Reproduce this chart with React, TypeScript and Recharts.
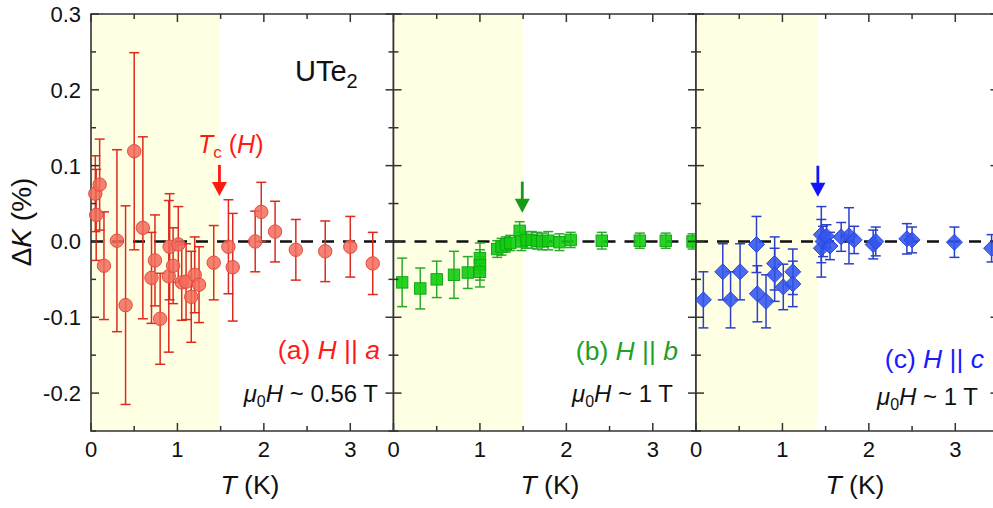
import {
  ScatterChart,
  Scatter,
  XAxis,
  YAxis,
  ErrorBar,
  ReferenceLine,
  ReferenceArea,
  ReferenceDot,
} from 'recharts';

const FONT = '"Liberation Sans", Arial, Helvetica, sans-serif';

// (a) H || a, mu0H ~ 0.56 T
const tA = [0.05, 0.06, 0.1, 0.15, 0.3, 0.4, 0.5, 0.6, 0.7, 0.74, 0.8, 0.9, 0.91, 0.95, 1.01, 1.05, 1.1, 1.16, 1.2, 1.25, 1.42, 1.59, 1.64, 1.9, 1.97, 2.13, 2.37, 2.71, 3.0, 3.26];
const kA = [0.063, 0.035, 0.075, -0.032, 0.001, -0.084, 0.119, 0.018, -0.048, -0.025, -0.102, -0.046, -0.007, -0.032, -0.004, -0.054, -0.053, -0.073, -0.044, -0.057, -0.028, -0.007, -0.034, 0.0, 0.039, 0.013, -0.011, -0.013, -0.007, -0.029];
const eA = [0.05, 0.06, 0.06, 0.071, 0.12, 0.131, 0.13, 0.12, 0.06, 0.06, 0.06, 0.1, 0.07, 0.05, 0.05, 0.05, 0.05, 0.06, 0.05, 0.05, 0.049, 0.062, 0.071, 0.04, 0.039, 0.04, 0.04, 0.04, 0.04, 0.041];

// (b) H || b, mu0H ~ 1 T
const tB = [0.1, 0.31, 0.5, 0.7, 0.86, 1.0, 1.0, 1.0, 1.2, 1.25, 1.3, 1.35, 1.46, 1.48, 1.54, 1.6, 1.66, 1.72, 1.79, 1.92, 2.05, 2.41, 2.85, 3.15, 3.46];
const kB = [-0.054, -0.062, -0.05, -0.044, -0.041, -0.022, -0.031, -0.04, -0.01, -0.007, -0.004, -0.002, 0.014, 0.0, 0.002, 0.002, 0.001, 0.0, 0.001, -0.001, 0.002, 0.001, 0.001, 0.001, 0.0];
const eB = [0.032, 0.027, 0.024, 0.031, 0.021, 0.02, 0.02, 0.02, 0.011, 0.011, 0.01, 0.01, 0.012, 0.012, 0.011, 0.011, 0.011, 0.011, 0.012, 0.011, 0.01, 0.011, 0.01, 0.01, 0.01];

// (c) H || c, mu0H ~ 1 T
const tC = [0.085, 0.31, 0.4, 0.51, 0.7, 0.71, 0.81, 0.91, 0.91, 1.01, 1.12, 1.12, 1.45, 1.45, 1.47, 1.51, 1.55, 1.68, 1.77, 1.83, 2.05, 2.08, 2.44, 2.5, 2.99, 3.42];
const kC = [-0.077, -0.04, -0.077, -0.04, -0.004, -0.069, -0.079, -0.029, -0.044, -0.06, -0.04, -0.056, 0.009, -0.009, 0.0, 0.007, -0.006, 0.006, 0.0075, 0.002, -0.004, 0.0, 0.0035, 0.002, -0.001, -0.009];
const eC = [0.037, 0.037, 0.037, 0.037, 0.037, 0.037, 0.035, 0.035, 0.035, 0.03, 0.03, 0.03, 0.037, 0.038, 0.02, 0.015, 0.018, 0.019, 0.037, 0.018, 0.019, 0.019, 0.02, 0.017, 0.02, 0.018];

// Tc(H) arrows: T and the K value at the arrow tip
const tcA = [1.486, 0.06];
const tcB = [1.49, 0.038];
const tcC = [1.41, 0.059];

const xTicks = [0, 0.5, 1, 1.5, 2, 2.5, 3, 3.5];
const yTicks = [-0.25, -0.2, -0.15, -0.1, -0.05, 0, 0.05, 0.1, 0.15, 0.2, 0.25, 0.3];

const W = 1000;
const H = 508;
const TOP = 14;
const BOTTOM = 431;
const AX = 50; // room reserved for axes
const AXIS = '#333';

const rows = (t: number[], k: number[], e: number[]) => t.map((v, i) => ({ t: v, k: k[i], e: e[i] }));

type PanelProps = {
  data: { t: number; k: number; e: number }[];
  left: number;
  right: number;
  shade: number;
  tc: number[];
  showY?: boolean;
  color: string;
  barColor: string;
  arrowColor: string;
  marker: (p: any) => any;
};

function Panel({ data, left, right, shade, tc, showY, color, barColor, arrowColor, marker }: PanelProps) {
  const xTick = (p: any) => {
    const v = p.payload.value;
    const x = p.payload.coordinate ?? p.x;
    if (v >= 3.5) return <g />;
    const major = Number.isInteger(v);
    const len = major ? 8 : 5;
    return (
      <g>
        <line x1={x} x2={x} y1={BOTTOM} y2={BOTTOM - len} stroke={AXIS} strokeWidth={1.5} />
        <line x1={x} x2={x} y1={TOP} y2={TOP + len} stroke={AXIS} strokeWidth={1.5} />
        {major && (
          <text x={x} y={BOTTOM + 26} textAnchor="middle" fontSize={22} fontFamily={FONT} fill="#111">
            {v}
          </text>
        )}
      </g>
    );
  };

  const yTick = (p: any) => {
    const v = p.payload.value;
    const y = p.payload.coordinate ?? p.y;
    const major = Math.abs(v * 10 - Math.round(v * 10)) < 1e-6;
    const len = major ? 8 : 5;
    return (
      <g>
        <line x1={left} x2={left + len} y1={y} y2={y} stroke={AXIS} strokeWidth={1.5} />
        <line x1={right} x2={right - len} y1={y} y2={y} stroke={AXIS} strokeWidth={1.5} />
        {showY && major && (
          <text x={left - 10} y={y} dy="0.36em" textAnchor="end" fontSize={22} fontFamily={FONT} fill="#111">
            {v.toFixed(1)}
          </text>
        )}
      </g>
    );
  };

  const arrow = (p: any) => {
    const { cx, cy } = p;
    return (
      <g>
        <line x1={cx} x2={cx} y1={cy - 31} y2={cy - 11} stroke={arrowColor} strokeWidth={2.8} />
        <polygon points={`${cx - 7.5},${cy - 14} ${cx + 7.5},${cy - 14} ${cx},${cy}`} fill={arrowColor} />
      </g>
    );
  };

  return (
    <div style={{ position: 'absolute', left: 0, top: 0 }}>
      <ScatterChart
        width={W}
        height={H}
        margin={{ top: TOP, bottom: H - BOTTOM - AX, left: left - AX, right: W - right }}
      >
        <XAxis
          type="number"
          dataKey="t"
          domain={[0, 3.5]}
          ticks={xTicks}
          interval={0}
          height={AX}
          axisLine={false}
          tickLine={false}
          tick={xTick}
        />
        <YAxis
          type="number"
          dataKey="k"
          domain={[-0.25, 0.3]}
          ticks={yTicks}
          interval={0}
          width={AX}
          axisLine={false}
          tickLine={false}
          tick={yTick}
        />
        <ReferenceArea x1={0} x2={shade} y1={-0.25} y2={0.3} fill="#FFFFE4" fillOpacity={1} stroke="none" />
        <ReferenceLine y={0} stroke="#111" strokeWidth={2.4} strokeDasharray="12 9" />
        <ReferenceArea x1={0} x2={3.5} y1={-0.25} y2={0.3} fill="none" fillOpacity={0} stroke={AXIS} strokeWidth={1.6} />
        <Scatter data={data} fill={color} shape={marker} isAnimationActive={false}>
          <ErrorBar dataKey="e" direction="y" width={5} stroke={barColor} strokeWidth={1.5} />
        </Scatter>
        <ReferenceDot x={tc[0]} y={tc[1]} r={0} shape={arrow} />
      </ScatterChart>
    </div>
  );
}

const circle = (p: any) => (
  <circle cx={p.cx} cy={p.cy} r={6.7} fill="#F26B5A" fillOpacity={0.85} stroke="#E24A3C" strokeWidth={1} />
);
const square = (p: any) => (
  <rect x={p.cx - 5.7} y={p.cy - 5.7} width={11.4} height={11.4} fill="#12CC12" fillOpacity={0.9} stroke="#10A810" strokeWidth={1} />
);
const diamond = (p: any) => (
  <polygon
    points={`${p.cx},${p.cy - 8} ${p.cx + 8},${p.cy} ${p.cx},${p.cy + 8} ${p.cx - 8},${p.cy}`}
    fill="#3355EE"
    fillOpacity={0.88}
    stroke="#2A47DD"
    strokeWidth={1}
  />
);

export default function App() {
  return (
    <div style={{ position: 'absolute', left: 0, top: 0, width: 993, height: 508, overflow: 'hidden', background: '#fff' }}>
      <Panel data={rows(tA, kA, eA)} left={91} right={393.5} shade={1.49} tc={tcA} showY color="#F26B5A" barColor="#DD2A1E" arrowColor="#FF1A10" marker={circle} />
      <Panel data={rows(tB, kB, eB)} left={393.5} right={696} shade={1.5} tc={tcB} color="#12CC12" barColor="#2AAA2A" arrowColor="#179A17" marker={square} />
      <Panel data={rows(tC, kC, eC)} left={696} right={998.5} shade={1.4} tc={tcC} color="#3355EE" barColor="#2A40C8" arrowColor="#1414FF" marker={diamond} />
      <svg width={993} height={508} style={{ position: 'absolute', left: 0, top: 0, pointerEvents: 'none' }} fontFamily={FONT}>
        <text transform="rotate(-90 21 222)" x={21} y={222} dy="0.36em" textAnchor="middle" fontSize={28} fill="#111">
          Δ<tspan fontStyle="italic">K</tspan> (%)
        </text>
        <text x={250} y={494} textAnchor="middle" fontSize={26.5} fill="#111">
          <tspan fontStyle="italic">T</tspan> (K)
        </text>
        <text x={550} y={494} textAnchor="middle" fontSize={26.5} fill="#111">
          <tspan fontStyle="italic">T</tspan> (K)
        </text>
        <text x={855} y={494} textAnchor="middle" fontSize={26.5} fill="#111">
          <tspan fontStyle="italic">T</tspan> (K)
        </text>
        <text x={295} y={81} fontSize={29} fill="#111">
          UTe<tspan fontSize={20} dy={7}>2</tspan>
        </text>
        <text x={198} y={153} fontSize={25} fill="#FF1A10">
          <tspan fontStyle="italic">T</tspan>
          <tspan fontSize={17} dy={5}>c</tspan>
          <tspan dy={-5}> (</tspan>
          <tspan fontStyle="italic">H</tspan>)
        </text>
        <text x={380} y={359} textAnchor="end" fontSize={26.5} fill="#FF1A1A">
          (a) <tspan fontStyle="italic">H</tspan> || <tspan fontStyle="italic">a</tspan>
        </text>
        <text x={378} y={402} textAnchor="end" fontSize={24} fill="#111">
          <tspan fontStyle="italic">μ</tspan>
          <tspan fontSize={16} dy={5}>0</tspan>
          <tspan fontStyle="italic" dy={-5}>H</tspan> ~ 0.56 T
        </text>
        <text x={678} y={360} textAnchor="end" fontSize={26.5} fill="#22A022">
          (b) <tspan fontStyle="italic">H</tspan> || <tspan fontStyle="italic">b</tspan>
        </text>
        <text x={673} y={402} textAnchor="end" fontSize={24} fill="#111">
          <tspan fontStyle="italic">μ</tspan>
          <tspan fontSize={16} dy={5}>0</tspan>
          <tspan fontStyle="italic" dy={-5}>H</tspan> ~ 1 T
        </text>
        <text x={984} y={368} textAnchor="end" fontSize={26.5} fill="#1A1AFF">
          (c) <tspan fontStyle="italic">H</tspan> || <tspan fontStyle="italic">c</tspan>
        </text>
        <text x={978} y={405} textAnchor="end" fontSize={24} fill="#111">
          <tspan fontStyle="italic">μ</tspan>
          <tspan fontSize={16} dy={5}>0</tspan>
          <tspan fontStyle="italic" dy={-5}>H</tspan> ~ 1 T
        </text>
      </svg>
    </div>
  );
}
